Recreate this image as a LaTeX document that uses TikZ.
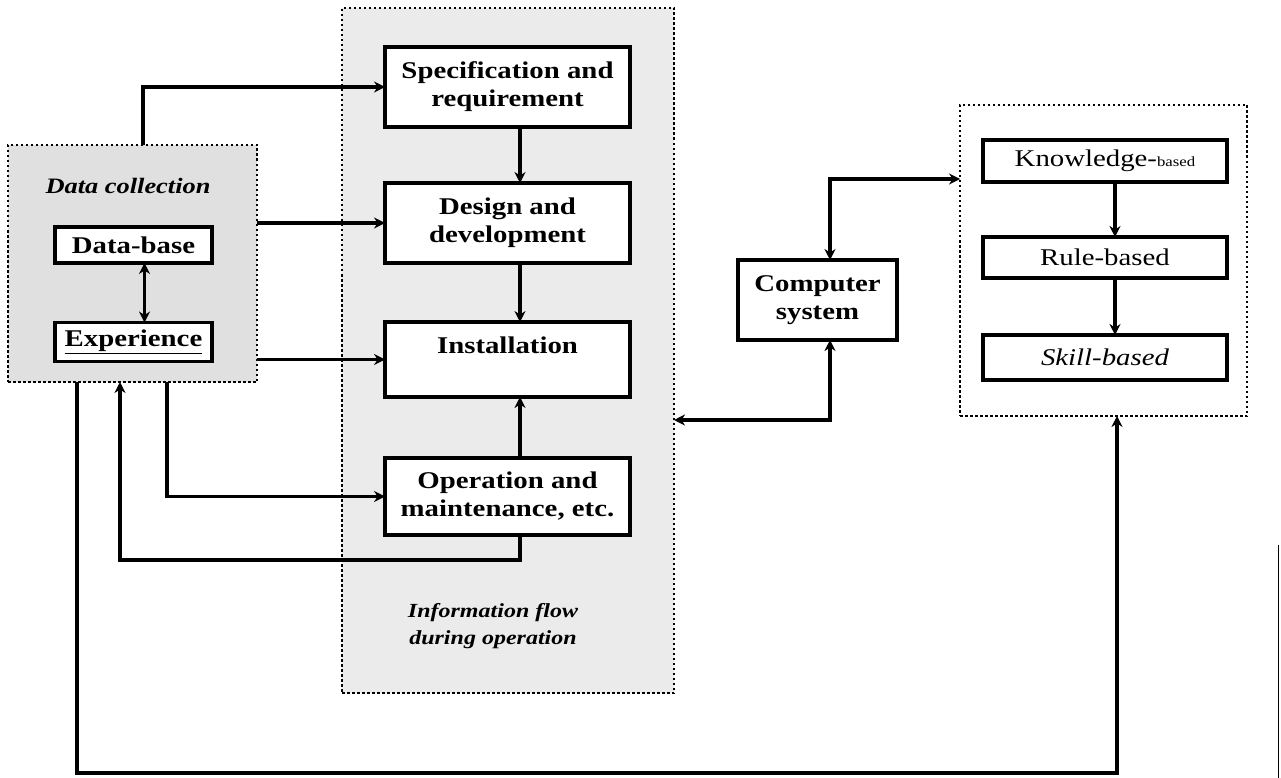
\documentclass[tikz,border=0pt]{standalone}
\usepackage{fontspec}
\setmainfont{Liberation Serif}[FakeStretch=1.2]
\usetikzlibrary{arrows.meta,calc}
\tikzset{
  grp/.style={draw=black, line width=2pt, dash pattern=on 2.5pt off 2.5pt, inner sep=0pt, outer sep=0pt},
  box/.style={draw=black, line width=3.5pt, fill=white, inner sep=2pt, outer sep=0pt, align=center,
    font=\fontsize{24}{28}\selectfont\bfseries},
  rbox/.style={box, font=\fontsize{24}{28}\selectfont},
  conn/.style={line width=3.5pt},
  arr/.style={conn, -{Stealth[length=11pt,width=11pt]}},
  darr/.style={conn, {Stealth[length=11pt,width=11pt]}-{Stealth[length=11pt,width=11pt]}},
  lbl/.style={inner sep=0pt, align=center, font=\fontsize{20}{27}\selectfont\bfseries\itshape}
}
\begin{document}
\begin{tikzpicture}[x=1pt,y=-1pt]
\useasboundingbox (0,0) rectangle (1281,778);
% groups
\node[grp, fill=black!12, minimum width=249, minimum height=237] (dc) at (132.5,263.5) {};
\node[grp, fill=black!8, minimum width=332, minimum height=685] (mid) at (508,350.5) {};
\node[grp, fill=white, minimum width=287, minimum height=311] (rgt) at (1103.5,260.5) {};
% group labels
\node[lbl, font=\fontsize{22}{26}\selectfont\bfseries\itshape] (dclbl) at (128,186) {Data collection};
\node[lbl] (midlbl) at (493,626) {Information flow\\during operation};
% left boxes
\node[box, minimum width=157, minimum height=36] (database) at (133.5,245) {Data-base};
\node[box, minimum width=157, minimum height=39] (experience) at (133.5,342) {\underline{Experience}};
% middle boxes
\node[box, minimum width=245, minimum height=80] (spec) at (507.5,87) {Specification and\\requirement};
\node[box, minimum width=245, minimum height=80] (design) at (507.5,223) {Design and\\development};
\node[box, minimum width=245, minimum height=75] (install) at (507.5,359.5) {Installation\\\phantom{X}};
\node[box, minimum width=245, minimum height=77] (oper) at (507.5,496.5) {Operation and\\maintenance, etc.};
% computer
\node[box, minimum width=159, minimum height=80] (comp) at (817.5,300) {Computer\\system};
% right boxes
\node[rbox, minimum width=244, minimum height=42] (know) at (1105,161) {Knowledge-{\fontsize{14}{16}\selectfont based}};
\node[rbox, minimum width=244, minimum height=41] (rule) at (1105,257.5) {Rule-based};
\node[rbox, minimum width=244, minimum height=45] (skill) at (1105,357.5) {\itshape Skill-based};
% coordinates
\coordinate (kin) at (960,179);
\coordinate (min) at (674,420);
% connectors
\draw[arr] ([xshift=10.5]dc.north) |- (spec.west);
\draw[arr] (dc.east |- design.west) -- (design.west);
\draw[arr] (dc.east |- install.west) -- (install.west);
\draw[darr] ([xshift=11]database.south) -- ([xshift=11]experience.north);
\draw[arr] ([xshift=12.5]spec.south) -- ([xshift=12.5]design.north);
\draw[arr] ([xshift=12.5]design.south) -- ([xshift=12.5]install.north);
\draw[arr] ([xshift=12.5]oper.north) -- ([xshift=12.5]install.south);
\draw[arr] ([xshift=12.5]oper.south) -- ++(0,25) -| ([xshift=-12.5]dc.south);
\draw[arr] ([xshift=34.5]dc.south) |- (oper.west);
\draw[arr] ([xshift=-55.5]dc.south) -- ++(0,391) -| ([xshift=13.5]rgt.south);
\draw[darr] ([xshift=12.5]comp.north) |- (kin);
\draw[darr] ([xshift=12.5]comp.south) |- (min);
\draw[arr] ([xshift=10]know.south) -- ([xshift=10]rule.north);
\draw[arr] ([xshift=10]rule.south) -- ([xshift=10]skill.north);
% page edge line
\draw[line width=1pt] (1278,545) -- (1278,778);
\end{tikzpicture}
\end{document}
